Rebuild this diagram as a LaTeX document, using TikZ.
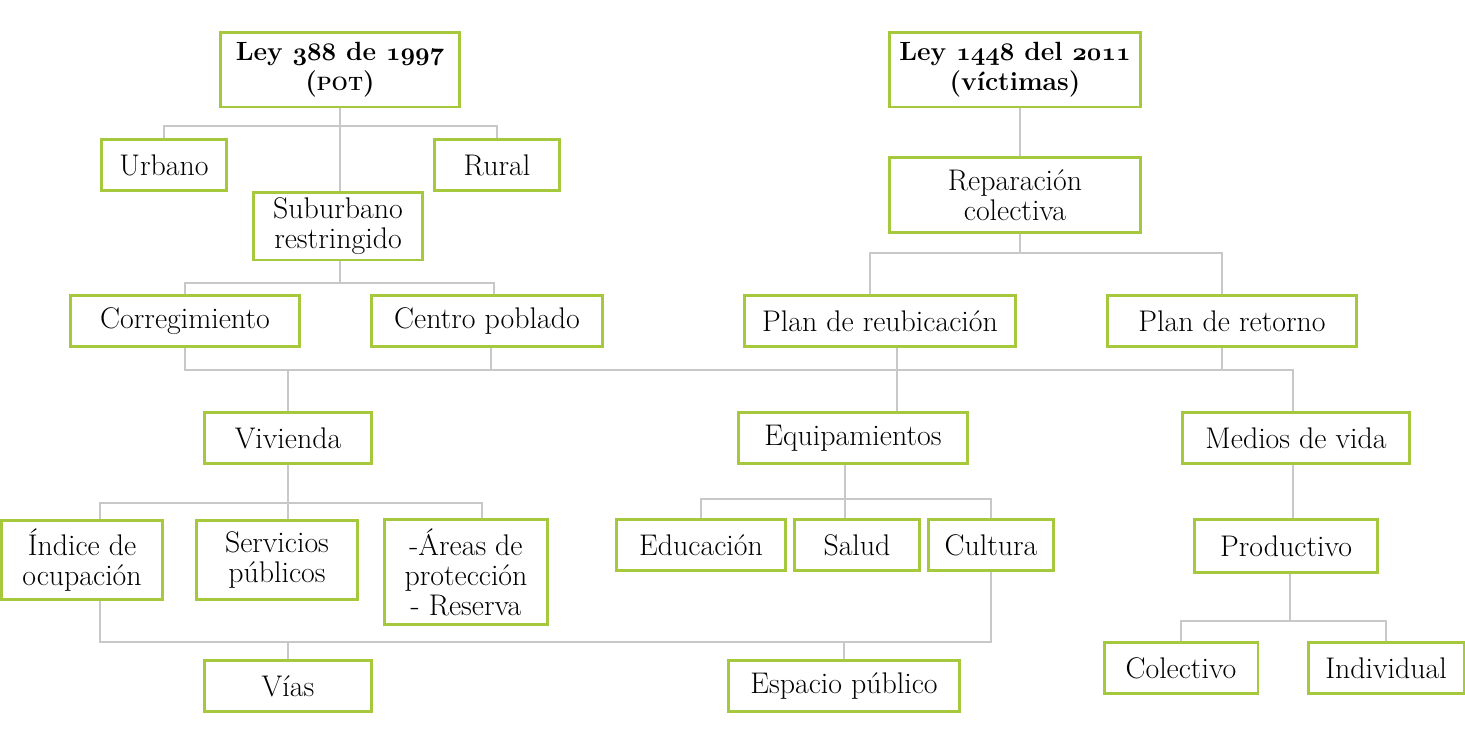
\documentclass[tikz,border=0pt]{standalone}
\usepackage{xcolor}
\usepackage{tikz}
\definecolor{leafgreen}{RGB}{165,200,60}
\definecolor{linkgray}{RGB}{200,200,200}
\newcommand{\osnum}[1]{{\boldmath$\mathnormal{#1}$}}

\begin{document}
\begin{tikzpicture}[
        x=0.02cm, y=-0.02cm,
        box/.style={draw=leafgreen, line width=1.7pt, fill=white, rectangle, align=center, inner sep=1pt, minimum height=1.02cm, font=\fontsize{17}{17}\selectfont},
        title/.style={box, minimum width=4.8cm, minimum height=1.5cm, font=\fontsize{15}{17}\selectfont\bfseries},
        link/.style={draw=linkgray, line width=0.9pt}
    ]
        \useasboundingbox (0,0) rectangle (1465,744);

        % Ley 388
        \node (ley388) [title] at (340,69.5) {Ley \osnum{388} de \osnum{1997}\\({\fontsize{11}{11}\selectfont POT})};
        \node (urbano) [box, minimum width=2.52cm] at (164,165) {Urbano};
        \node (rural) [box, minimum width=2.5cm] at (497,165) {Rural};
        \node (suburbano) [box, minimum width=3.4cm, minimum height=1.36cm] at (338,226) {Suburbano\\restringido};
        \node (corregimiento) [box, minimum width=4.6cm] at (185,321) {Corregimiento};
        \node (centro) [box, minimum width=4.62cm] at (487,321) {Centro poblado};

        % Ley 1448
        \node (ley1448) [title, minimum width=5.02cm] at (1015,69.5) {Ley \osnum{1448} del \osnum{2011}\\(víctimas)};
        \node (reparacion) [box, minimum width=5.04cm, minimum height=1.5cm] at (1015,195) {Reparación\\colectiva};
        \node (reubicacion) [box, minimum width=5.42cm] at (880,321) {Plan de reubicación};
        \node (retorno) [box, minimum width=5cm] at (1232,321) {Plan de retorno};

        % Middle row
        \node (vivienda) [box, minimum width=3.36cm] at (288,438) {Vivienda};
        \node (equipamientos) [box, minimum width=4.58cm] at (853,438) {Equipamientos};
        \node (medios) [box, minimum width=4.54cm] at (1296,438) {Medios de vida};

        % Lower rows
        \node (indice) [box, minimum width=3.24cm, minimum height=1.58cm] at (82,560) {Índice de\\ocupación};
        \node (servicios) [box, minimum width=3.24cm, minimum height=1.58cm] at (277,560) {Servicios\\públicos};
        \node (areas) [box, minimum width=3.26cm, minimum height=2.1cm] at (466,572) {-Áreas de\\protección\\- Reserva};
        \node (educacion) [box, minimum width=3.38cm] at (701,545) {Educación};
        \node (salud) [box, minimum width=2.5cm] at (857,545) {Salud};
        \node (cultura) [box, minimum width=2.5cm] at (991,545) {Cultura};
        \node (productivo) [box, minimum width=3.66cm, minimum height=1.06cm] at (1286,546) {Productivo};
        \node (vias) [box, minimum width=3.36cm] at (288,686) {Vías};
        \node (espacio) [box, minimum width=4.64cm] at (844,686) {Espacio público};
        \node (colectivo) [box, minimum width=3.08cm] at (1181,668) {Colectivo};
        \node (individual) [box, minimum width=3.12cm] at (1386,668) {Individual};

        % Bus lines
        \coordinate (bus388) at (340,126);
        \coordinate (busSub) at (340,283);
        \coordinate (busRep) at (1020,253);
        \coordinate (busMain) at (700,370);
        \coordinate (busViv) at (289,503);
        \coordinate (busEq) at (845,499);
        \coordinate (busLow) at (289,642);
        \coordinate (busProd) at (1290,621);

        \draw [link] (ley388.south) -- (ley388.south |- suburbano.north);
        \draw [link] (urbano.north) |- (bus388) -| (rural.north);
        \draw [link] (ley388.south |- suburbano.south) -- (busSub);
        \draw [link] (corregimiento.north) |- (busSub) -| ([xshift=0.14cm]centro.north);

        \draw [link] ([xshift=0.1cm]ley1448.south) -- ([xshift=0.1cm]reparacion.north);
        \draw [link] ([xshift=0.1cm]reparacion.south) -- (busRep);
        \draw [link] ([xshift=-0.2cm]reubicacion.north) |- (busRep) -| ([xshift=-0.2cm]retorno.north);

        \draw [link] (corregimiento.south) |- (busMain) -| ([xshift=-0.06cm]medios.north);
        \draw [link] ([xshift=0.08cm]centro.south) -- ([xshift=0.08cm]centro.south |- busMain);
        \draw [link] ([xshift=-0.2cm]retorno.south) -- ([xshift=-0.2cm]retorno.south |- busMain);
        \draw [link] (vivienda.north) -- (vivienda.north |- busMain);
        \draw [link] ([xshift=0.34cm]reubicacion.south) -- ([xshift=0.34cm]reubicacion.south |- equipamientos.north);

        \draw [link] (vivienda.south) -- (vivienda.south |- servicios.north);
        \draw [link] ([xshift=0.36cm]indice.north) |- (busViv) -| ([xshift=0.32cm]areas.north);
        \draw [link] ([xshift=-0.16cm]equipamientos.south) -- ([xshift=-0.16cm]equipamientos.south |- salud.north);
        \draw [link] (educacion.north) |- (busEq) -| (cultura.north);

        \draw [link] ([xshift=0.36cm]indice.south) |- (busLow) -| (cultura.south);
        \draw [link] (vias.north) -- (vias.north |- busLow);
        \draw [link] (espacio.north) -- (espacio.north |- busLow);

        \draw [link] ([xshift=-0.06cm]medios.south) -- ([xshift=-0.06cm]medios.south |- productivo.north);
        \draw [link] ([xshift=0.08cm]productivo.south) -- (busProd);
        \draw [link] (colectivo.north) |- (busProd) -| (individual.north);
    \end{tikzpicture}
\end{document}
